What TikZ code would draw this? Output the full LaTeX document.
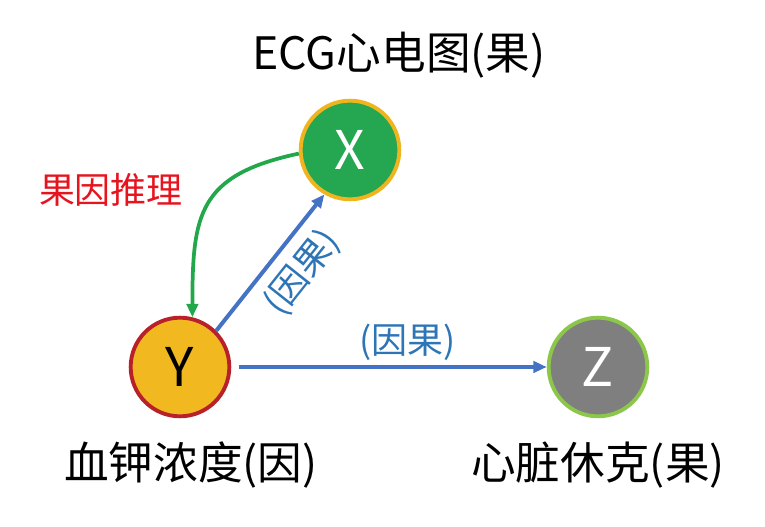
\documentclass[tikz,border=0pt]{standalone}
\usepackage{fontspec}
\setmainfont{Noto Sans CJK SC}
\usetikzlibrary{arrows.meta,positioning}

\definecolor{xfill}{RGB}{37,166,80}
\definecolor{xline}{RGB}{240,180,30}
\definecolor{yfill}{RGB}{242,184,31}
\definecolor{yline}{RGB}{184,32,42}
\definecolor{zfill}{RGB}{127,127,127}
\definecolor{zline}{RGB}{140,198,75}
\definecolor{causeblue}{RGB}{68,114,196}
\definecolor{tagblue}{RGB}{46,117,182}
\definecolor{infergreen}{RGB}{34,168,74}
\definecolor{inferred}{RGB}{230,20,30}

\begin{document}
\begin{tikzpicture}[
    x=0.75pt, y=0.75pt,
    >={Triangle[length=10pt,width=8.5pt]},
    var/.style={circle, minimum size=74pt, inner sep=0pt, line width=2.9pt, font=\fontsize{40}{40}\selectfont},
    caption/.style={font=\fontsize{33.5}{36}\selectfont},
    tag/.style={font=\fontsize{27}{30}\selectfont, text=tagblue},
    cause/.style={->, line width=3pt, draw=causeblue},
    infer/.style={->, line width=2.8pt, draw=infergreen}
  ]
    \useasboundingbox (0,0) rectangle (765,-527);

    \node[var, fill=xfill, draw=xline, text=white] (X) at (350,-150) {X};
    \node[var, fill=yfill, draw=yline] (Y) at (180,-367) {Y};
    \node[var, fill=zfill, draw=zline, text=white] (Z) at (598,-367) {Z};

    \node[caption] (xcap) at (399,-55) {ECG心电图(果)};
    \node[caption] (ycap) at (191,-465) {血钾浓度(因)};
    \node[caption] (zcap) at (598,-465) {心脏休克(果)};
    \node[font=\fontsize{27}{30}\selectfont, text=inferred] (infertxt) at (111,-190) {果因推理};

    \draw[cause] (Y.45) -- node[tag, sloped, below=5pt, pos=0.57] {(因果)} (X.240);
    \draw[cause, shorten <=6pt] (Y.east) -- node[tag, above, pos=0.56] {(因果)} (Z.west);
    \draw[infer] (X.184) to[out=192, in=90, looseness=1.35] (Y.76);
  \end{tikzpicture}
\end{document}
